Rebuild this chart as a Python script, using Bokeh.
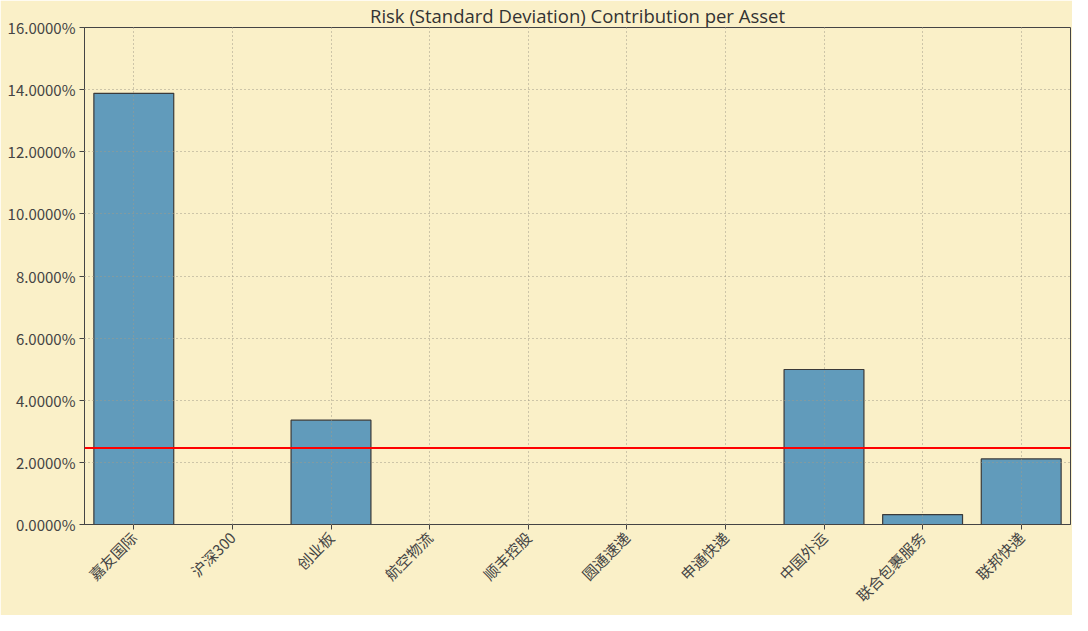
from bokeh.plotting import figure
from bokeh.models import ColumnDataSource, FactorRange, Span, NumeralTickFormatter, FixedTicker, Range1d
from bokeh.embed import file_html
from bokeh.resources import INLINE
import math

assets = ["嘉友国际", "沪深300", "创业板", "航空物流", "顺丰控股", "圆通速递", "申通快递", "中国外运", "联合包裹服务", "联邦快递"]
risk_contrib = [0.1388, 0.0, 0.0336, 0.0, 0.0, 0.0, 0.0, 0.0499, 0.0032, 0.0211]
y_ticks = [0.0, 0.02, 0.04, 0.06, 0.08, 0.10, 0.12, 0.14, 0.16]
mean_line = sum(risk_contrib) / len(risk_contrib)

BG = "#faf0c8"
FONT = "Noto Sans CJK SC"

src = ColumnDataSource(dict(asset=assets, value=risk_contrib))

p = figure(x_range=FactorRange(*assets), y_range=Range1d(0, 0.16),
           width=1072, height=615, output_backend="svg", toolbar_location=None,
           title="Risk (Standard Deviation) Contribution per Asset",
           min_border_left=84, min_border_right=2, min_border_bottom=91, min_border_top=0)

p.background_fill_color = BG
p.border_fill_color = BG
p.outline_line_color = "#444444"
p.outline_line_width = 1

p.title.align = "center"
p.title.text_font = "Open Sans"
p.title.text_font_size = "18.5px"
p.title.text_font_style = "normal"
p.title.text_color = "#333333"
p.title.standoff = 0
p.title.text_line_height = 0.8

p.vbar(x="asset", top="value", width=0.81, source=src,
       fill_color="#619bbb", line_color="#3a3a3a", line_width=1.2)

p.add_layout(Span(location=mean_line, dimension="width", line_color="#ff0000", line_width=2))

for g in (p.xgrid, p.ygrid):
    g.grid_line_color = "#a09a88"
    g.grid_line_dash = "1 3"
    g.grid_line_width = 1
    g.level = "annotation"
p.ygrid.ticker = FixedTicker(ticks=y_ticks)

p.yaxis.ticker = FixedTicker(ticks=y_ticks)
p.yaxis.formatter = NumeralTickFormatter(format="0.0000%")
p.xaxis.major_label_orientation = math.pi / 4

for ax in (p.xaxis, p.yaxis):
    ax.axis_line_color = "#444444"
    ax.major_tick_line_color = "#444444"
    ax.major_tick_out = 5
    ax.major_tick_in = 0
    ax.minor_tick_line_color = None
    ax.major_label_text_font = FONT
    ax.major_label_text_font_size = "15px"
    ax.major_label_text_color = "#444444"
p.xaxis.major_label_standoff = 5
p.yaxis.major_label_standoff = 4

open("out.html", "w").write(file_html(p, INLINE))
